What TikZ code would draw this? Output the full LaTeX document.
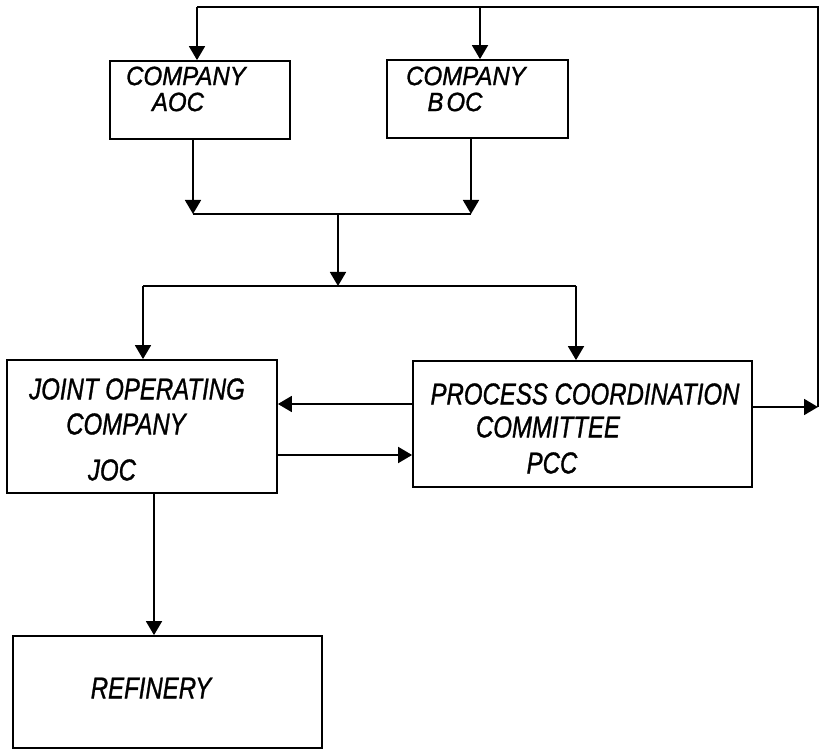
\documentclass[tikz,border=0pt]{standalone}
\usepackage{fontspec}
\usepackage{graphicx}
\setmainfont{Liberation Sans}[ItalicFeatures={FakeBold=1.2}]
\usetikzlibrary{arrows.meta}
\newcommand\tallTxt[1]{\scalebox{1}[1.25]{#1}}
\newcommand\midTxt[1]{\scalebox{1}[1.1]{#1}}
\begin{document}
\begin{tikzpicture}[x=1pt,y=-1pt,
  box/.style={draw,line width=1.8pt,inner sep=0pt},
  lbl/.style={font=\fontsize{24}{28}\selectfont\itshape,inner sep=0pt},
  lnk/.style={line width=1.8pt},
  arr/.style={line width=1.8pt,-{Triangle[width=16pt,length=14pt]}}]
\useasboundingbox (0,0) rectangle (820,751);
% boxes
\node[box,minimum width=180pt,minimum height=78pt] (aoc) at (200,100) {};
\node[box,minimum width=181pt,minimum height=78pt] (boc) at (477.5,99) {};
\node[box,minimum width=270pt,minimum height=133pt] (joc) at (142,426.5) {};
\node[box,minimum width=339pt,minimum height=126pt] (pcc) at (582.5,424) {};
\node[box,minimum width=309pt,minimum height=112pt] (ref) at (167.5,692) {};
% labels
\node[lbl] (aoc1) at (186,76) {\midTxt{COMPANY}};
\node[lbl] (aoc2) at (178,102) {\midTxt{AOC}};
\node[lbl] (boc1) at (466,76) {\midTxt{COMPANY}};
\node[lbl] (boc2) at (455,102) {\midTxt{B\hspace{3pt}OC}};
\node[lbl] (joc1) at (137,389) {\tallTxt{JOINT OPERATING}};
\node[lbl] (joc2) at (126,424) {\tallTxt{COMPANY}};
\node[lbl] (joc3) at (112,470) {\tallTxt{JOC}};
\node[lbl] (pcc1) at (585,394) {\tallTxt{PROCESS COORDINATION}};
\node[lbl] (pcc2) at (548,427) {\tallTxt{COMMITTEE}};
\node[lbl] (pcc3) at (552,463) {\tallTxt{PCC}};
\node[lbl] (ref1) at (151,688) {\tallTxt{REFINERY}};
% coordinates
\coordinate (tl) at (197,7);
\coordinate (tb) at (480,7);
\coordinate (tr) at (818,7);
\coordinate (br) at (818,407);
\coordinate (ma) at (193,214);
\coordinate (mb) at (471,214);
\coordinate (mc) at (338,214);
\coordinate (nc) at (338,286);
\coordinate (nl) at (143,286);
\coordinate (nr) at (576,286);
\coordinate (y1) at (0,404);
\coordinate (y2) at (0,455);
\coordinate (xr) at (154,0);
% connectors
\draw[arr] (br -| pcc.east) -- (br);
\draw[lnk] (br) -- (tr) -- (tl);
\draw[arr] (tl) -- (tl |- aoc.north);
\draw[arr] (tb) -- (tb |- boc.north);
\draw[arr] (aoc.south -| ma) -- (ma);
\draw[arr] (boc.south -| mb) -- (mb);
\draw[lnk] (ma) -- (mb);
\draw[arr] (mc) -- (nc);
\draw[lnk] (nl) -- (nr);
\draw[arr] (nl) -- (nl |- joc.north);
\draw[arr] (nr) -- (nr |- pcc.north);
\draw[arr] (pcc.west |- y1) -- (joc.east |- y1);
\draw[arr] (joc.east |- y2) -- (pcc.west |- y2);
\draw[arr] (joc.south -| xr) -- (ref.north -| xr);
\end{tikzpicture}
\end{document}
